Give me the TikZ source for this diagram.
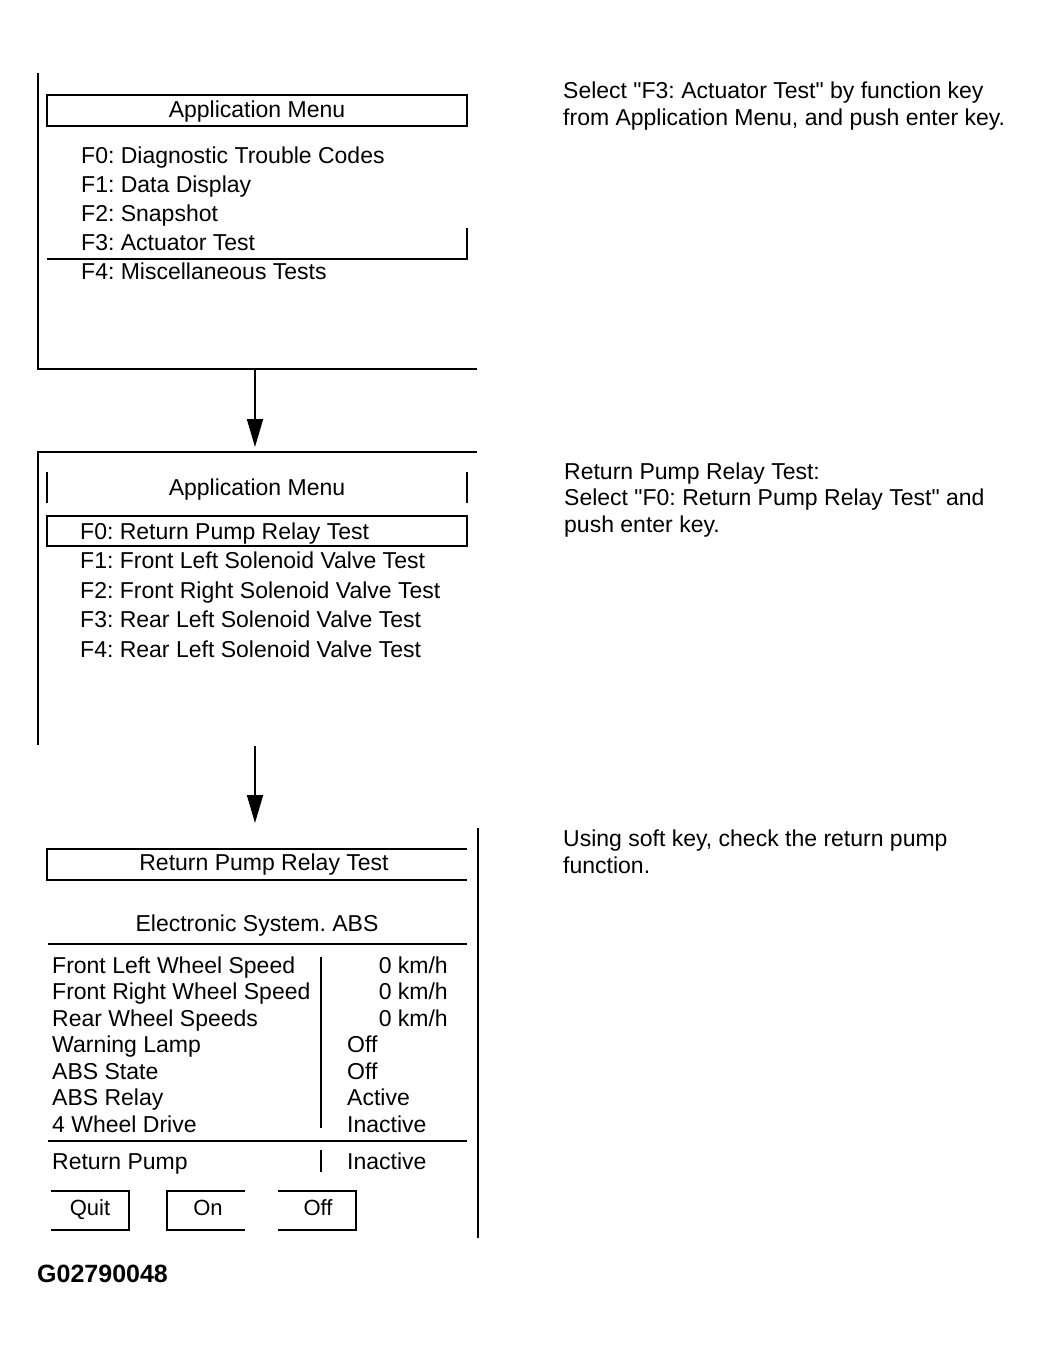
\documentclass[tikz,border=0pt]{standalone}
\usepackage{fontspec}
\setmainfont{Liberation Sans}
\usetikzlibrary{arrows.meta}
\frenchspacing

\begin{document}
\begin{tikzpicture}[x=1pt, y=-1pt,
  frame/.style={line width=2.8pt},
  arr/.style={-{Triangle[length=28pt,width=16pt]}, line width=2pt},
  item/.style={anchor=base west, inner sep=0pt, font=\fontsize{23}{27}\selectfont},
  value/.style={anchor=base east, inner sep=0pt, font=\fontsize{23}{27}\selectfont},
  title/.style={anchor=base, inner sep=0pt, font=\fontsize{23}{27}\selectfont},
  note/.style={anchor=base west, inner sep=0pt, align=left,
               font=\fontsize{23}{26.5}\selectfont},
  softkey/.style={anchor=base, inner sep=0pt, font=\fontsize{22}{26}\selectfont}
]
  \useasboundingbox (0,0) rectangle (1046,1358);
  \fill[white] (0,0) rectangle (1046,1358);

  % screen 1: application menu
  \draw[frame] (38,73) -- (38,369) -- (477,369);
  \draw[frame] (47,95) rectangle (467,126);
  \node[title] (menu1) at (257,117) {Application Menu};
  \foreach \txt [count=\i from 0] in {F0: Diagnostic Trouble Codes, F1: Data Display,
      F2: Snapshot, F3: Actuator Test, F4: Miscellaneous Tests}
    \node[item] (fn1-\i) at (81,{163+29*\i}) {\txt};
  \draw[frame] (467,228) -- (467,259) -- (47,259);

  \coordinate (out1) at (255,369);
  \coordinate (in2) at (255,447);
  \draw[arr] (out1) -- (in2);

  % screen 2: actuator test menu
  \draw[frame] (477,452) -- (38,452) -- (38,745);
  \draw[frame] (47,472) -- (47,503);
  \draw[frame] (467,472) -- (467,503);
  \node[title] (menu2) at (257,495) {Application Menu};
  \draw[frame] (47,516) rectangle (467,546);
  \foreach \txt [count=\i from 0] in {F0: Return Pump Relay Test,
      F1: Front Left Solenoid Valve Test, F2: Front Right Solenoid Valve Test,
      F3: Rear Left Solenoid Valve Test, F4: Rear Left Solenoid Valve Test}
    \node[item] (fn2-\i) at (80,{539+29.5*\i}) {\txt};

  \coordinate (out2) at (255,746);
  \coordinate (in3) at (255,823);
  \draw[arr] (out2) -- (in3);

  % screen 3: return pump relay test
  \draw[frame] (478,828) -- (478,1238);
  \draw[frame] (467,849) -- (47,849) -- (47,880) -- (467,880);
  \node[title] (rprt) at (264,870) {Return Pump Relay Test};
  \node[title] (sys) at (257,931) {Electronic System. ABS};
  \draw[frame] (48,944) -- (467,944);
  \foreach \lbl [count=\i from 0] in {Front Left Wheel Speed, Front Right Wheel Speed,
      Rear Wheel Speeds, Warning Lamp, ABS State, ABS Relay, 4 Wheel Drive}
    \node[item] (row-\i) at (52,{973+26.5*\i}) {\lbl};
  \foreach \i in {0,1,2}
    \node[value] (val-\i) at (448,{973+26.5*\i}) {0 km/h};
  \foreach \v [count=\i from 3] in {Off, Off, Active, Inactive}
    \node[item] (val-\i) at (347,{973+26.5*\i}) {\v};
  \draw[frame] (321,957) -- (321,1128);
  \draw[frame] (48,1141) -- (467,1141);
  \node[item] (pump) at (52,1169) {Return Pump};
  \draw[frame] (321,1150) -- (321,1172);
  \node[item] (pumpval) at (347,1169) {Inactive};

  % soft keys
  \draw[frame] (51,1191) -- (129,1191) -- (129,1230) -- (51,1230);
  \node[softkey] (quit) at (90,1215) {Quit};
  \draw[frame] (245,1191) -- (167,1191) -- (167,1230) -- (245,1230);
  \node[softkey] (on) at (208,1215) {On};
  \draw[frame] (278,1191) -- (356,1191) -- (356,1230) -- (278,1230);
  \node[softkey] (off) at (318,1215) {Off};

  \node[anchor=base west, inner sep=0pt, font=\fontsize{25}{29}\selectfont\bfseries]
    (figno) at (37,1282) {G02790048};

  % instructions (base = last line)
  \node[note] (step1) at (563,125)
    {Select \textquotedbl F3: Actuator Test\textquotedbl{} by function key\\
     from Application Menu, and push enter key.};
  \node[note] (step2) at (564,532)
    {Return Pump Relay Test:\\
     Select \textquotedbl F0: Return Pump Relay Test\textquotedbl{} and\\
     push enter key.};
  \node[note] (step3) at (563,873)
    {Using soft key, check the return pump\\function.};
\end{tikzpicture}
\end{document}
